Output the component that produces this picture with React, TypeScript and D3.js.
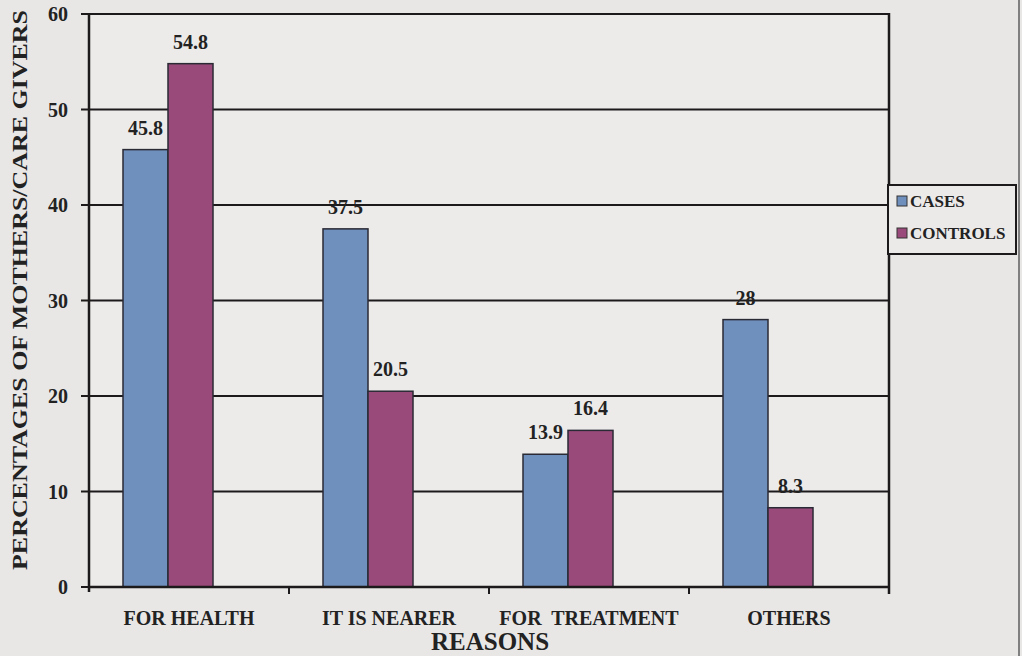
import React from "react";
import * as d3 from "d3";

const categories = ["FOR HEALTH", "IT IS NEARER", "FOR  TREATMENT", "OTHERS"];
const seriesNames = ["CASES", "CONTROLS"];
const cases = [45.8, 37.5, 13.9, 28];
const controls = [54.8, 20.5, 16.4, 8.3];
const caseLabels = ["45.8", "37.5", "13.9", "28"];
const controlLabels = ["54.8", "20.5", "16.4", "8.3"];
const yTicks = [0, 10, 20, 30, 40, 50, 60];
const colors = ["#6f8fbd", "#9a4a7a"];

const W = 1022;
const H = 656;
const left = 89;
const right = 889;
const top = 14;
const bottom = 587;
const FONT = "'Liberation Serif', 'Times New Roman', serif";

export default function App() {
  const y = d3.scaleLinear().domain([0, 60]).range([bottom, top]);
  const x0 = d3.scaleBand<string>().domain(categories).range([left, right]).padding(0);
  const bw = x0.bandwidth();
  const x1 = d3.scaleBand<string>().domain(seriesNames).range([bw * 0.17, bw * 0.17 + 90]).padding(0);
  const values = [cases, controls];
  const labels = [caseLabels, controlLabels];
  const boundaries = [...categories.map((c) => x0(c) as number), right];

  return (
    <svg width={W} height={H} style={{ position: "absolute", left: 0, top: 0, background: "#e8e7e6" }}>
      <rect x={0} y={0} width={W} height={H} fill="#e8e7e6" />
      <rect x={left} y={top} width={right - left} height={bottom - top} fill="#ecebea" />
      {/* gridlines */}
      {yTicks.filter((t) => t > 0).map((t) => (
        <line key={t} x1={left} x2={right} y1={y(t)} y2={y(t)} stroke="#1c1a1a" strokeWidth={2} />
      ))}
      {/* right border */}
      <line x1={right} x2={right} y1={top - 1} y2={bottom + 7} stroke="#1c1a1a" strokeWidth={2.5} />
      {/* bars */}
      {categories.map((c, i) => (
        <g key={c} transform={`translate(${x0(c)},0)`}>
          {seriesNames.map((s, j) => (
            <rect
              key={s}
              x={x1(s)}
              y={y(values[j][i])}
              width={x1.bandwidth()}
              height={y(0) - y(values[j][i])}
              fill={colors[j]}
              stroke="#2a2a35"
              strokeWidth={1.5}
            />
          ))}
          {seriesNames.map((s, j) => (
            <text
              key={s + "l"}
              x={(x1(s) as number) + x1.bandwidth() / 2}
              y={y(values[j][i]) - 15}
              textAnchor="middle"
              fontFamily={FONT}
              fontWeight="bold"
              fontSize={20}
              fill="#222"
            >
              {labels[j][i]}
            </text>
          ))}
        </g>
      ))}
      {/* axes */}
      <line x1={left} x2={right} y1={bottom} y2={bottom} stroke="#1c1a1a" strokeWidth={2.5} />
      <line x1={left} x2={left} y1={top - 1} y2={bottom + 5} stroke="#1c1a1a" strokeWidth={2.5} />
      {boundaries.slice(1, -1).map((bx, i) => (
        <line key={i} x1={bx} x2={bx} y1={bottom} y2={bottom + 7} stroke="#1c1a1a" strokeWidth={2} />
      ))}
      {yTicks.map((t) => (
        <g key={t}>
          <line x1={left - 8} x2={left} y1={y(t)} y2={y(t)} stroke="#1c1a1a" strokeWidth={2} />
          <text
            x={left - 21}
            y={y(t)}
            dy="0.35em"
            textAnchor="end"
            fontFamily={FONT}
            fontWeight="bold"
            fontSize={20}
            fill="#222"
          >
            {t}
          </text>
        </g>
      ))}
      {/* category labels */}
      {categories.map((c) => (
        <text
          key={c}
          x={(x0(c) as number) + bw / 2}
          y={625}
          textAnchor="middle"
          fontFamily={FONT}
          fontWeight="bold"
          fontSize={20}
          fill="#222"
          style={{ whiteSpace: "pre" }}
        >
          {c}
        </text>
      ))}
      <text x={490} y={650} textAnchor="middle" fontFamily={FONT} fontWeight="bold" fontSize={25} fill="#222">
        REASONS
      </text>
      <text
        transform={`translate(27,290) rotate(-90)`}
        textAnchor="middle"
        fontFamily={FONT}
        fontWeight="bold"
        fontSize={22}
        fill="#222"
        textLength={560}
        lengthAdjust="spacingAndGlyphs"
      >
        PERCENTAGES OF MOTHERS/CARE GIVERS
      </text>
      {/* legend */}
      <rect x={888} y={185} width={128} height={69} fill="#eceae9" stroke="#1c1a1a" strokeWidth={2} />
      {seriesNames.map((s, j) => (
        <g key={s}>
          <rect x={897} y={196 + j * 32} width={10} height={10} fill={colors[j]} stroke="#333" strokeWidth={1} />
          <text x={910} y={207 + j * 32} fontFamily={FONT} fontWeight="bold" fontSize={17} fill="#222">
            {s}
          </text>
        </g>
      ))}
      <line x1={1019} x2={1019} y1={0} y2={H} stroke="#555" strokeWidth={2} opacity={0.7} />
    </svg>
  );
}
